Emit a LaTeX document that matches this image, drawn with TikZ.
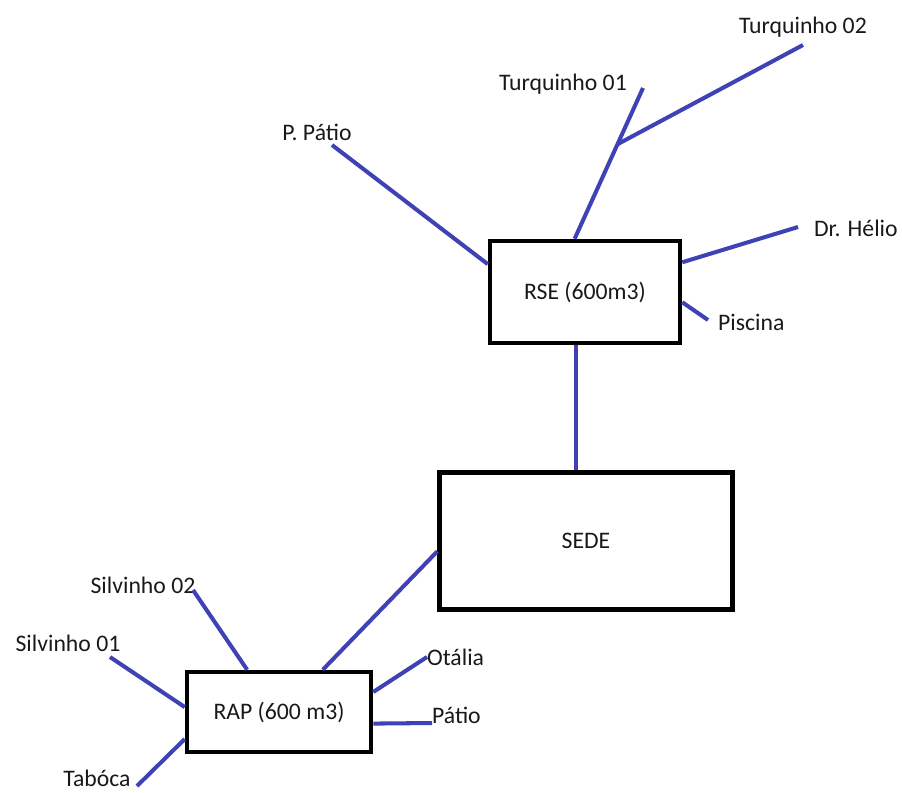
\documentclass[tikz,border=0pt]{standalone}
\usepackage{fontspec}
\setmainfont{Carlito}
\usetikzlibrary{calc}
\definecolor{pipeblue}{RGB}{62,66,180}
\tikzset{
  tank/.style={draw=black, line width=2.6pt, inner sep=0pt, text=black!90},
  pipe/.style={draw=pipeblue, line width=2.3pt},
  tag/.style={inner sep=1pt, text=black!90}
}
\begin{document}
\begin{tikzpicture}[x=0.02cm, y=-0.02cm, font=\fontsize{13.5}{16}\selectfont]
    \useasboundingbox (0,0) rectangle (902,792);
    \node[tank, minimum width=3.8cm, minimum height=2.04cm] (rse) at (585,292) {RSE (600m3)};
    \node[tank, minimum width=5.86cm, minimum height=2.74cm] (sede) at (586,541) {SEDE};
    \node[tank, minimum width=3.68cm, minimum height=1.6cm] (rap) at (279,712) {RAP (600 m3)};

    \node[tag] (tq2) at (803,27) {Turquinho 02};
    \node[tag] (tq1) at (563,84) {Turquinho 01};
    \node[tag] (ppatio) at (317,132) {P. Pátio};
    \node[tag, anchor=west] (helio) at (812,228) {Dr. Hélio};
    \node[tag, anchor=west] (piscina) at (716,322) {Piscina};
    \node[tag] (sil2) at (143,585) {Silvinho 02};
    \node[tag] (sil1) at (68,643) {Silvinho 01};
    \node[tag] (taboca) at (97,778) {Tabóca};
    \node[tag, anchor=west] (otalia) at (425,657) {Otália};
    \node[tag, anchor=west] (patio) at (430,715) {Pátio};

    \foreach \c/\x/\y in {tq1e/643/88, tq2e/803/45, helioe/798/227, piscinae/708/320,
                          ppatioe/332/145, sil2e/193/590, sil1e/110/657, tabocae/137/786,
                          otaliae/427/657, patioe/432/723}
        {\coordinate (\c) at (\x,\y);}
    \coordinate (fork) at ($(rse.101)!0.627!(tq1e)$);

    \draw[pipe] (rse.101) -- (tq1e);
    \draw[pipe] (fork) -- (tq2e);
    \draw[pipe] (rse.164) -- (ppatioe);
    \draw[pipe] (rse.17) -- (helioe);
    \draw[pipe] (rse.-6) -- (piscinae);
    \draw[pipe] (rse.260) -- (rse.260 |- sede.north);
    \draw[pipe] (sede.184) -- (rap.44);
    \draw[pipe] (rap.127) -- (sil2e);
    \draw[pipe] (rap.177) -- (sil1e);
    \draw[pipe] (rap.196) -- (tabocae);
    \draw[pipe] (rap.12) -- (otaliae);
    \draw[pipe] (rap.-7) -- (patioe);
\end{tikzpicture}
\end{document}
